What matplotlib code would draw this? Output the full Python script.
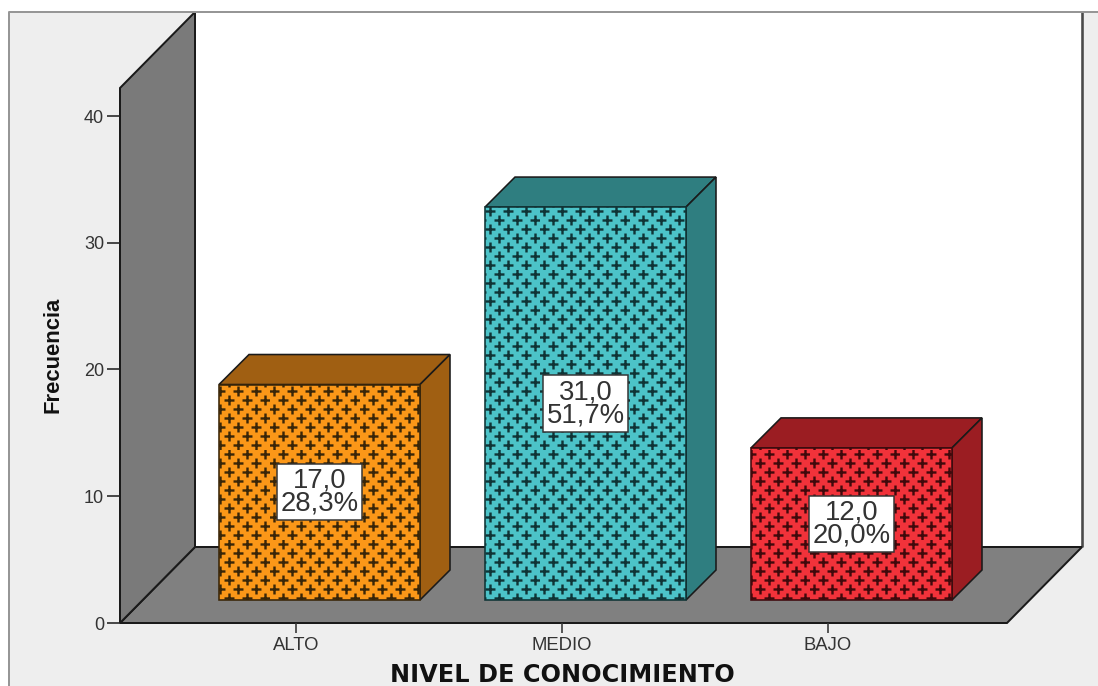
import numpy as np
import matplotlib
matplotlib.use("Agg")
import matplotlib.pyplot as plt
import matplotlib.hatch as mhatch
from matplotlib.patches import Polygon, Rectangle
from matplotlib.lines import Line2D
from matplotlib.path import Path

# ---- data ----
categories = ["ALTO", "MEDIO", "BAJO"]
counts = [17.0, 31.0, 12.0]
percents = [28.3, 51.7, 20.0]
y_ticks = [0, 10, 20, 30, 40]
x_title = "NIVEL DE CONOCIMIENTO"
y_title = "Frecuencia"
front_colors = ["#FB9718", "#4CC3C8", "#F1323A"]
side_colors = ["#A05F12", "#2F7E80", "#9B1D22"]
hatch_colors = ["#3A2608", "#0F3436", "#40090C"]

# ---- layout (pixels) ----
W, H, DPI = 1098, 686, 90
PX_PT = 72 / DPI
AX_L, AX_R, AX_B, AX_T = 120, 1007, 623, 88
CAT_PX = 266
VAL_PX = 12.675
TICK0_PX = 296


class PlusHatch(mhatch.HatchPatternBase):
    """Staggered plus signs: 5 per row, 10 rows per tile."""
    ROWS, COLS, ARM = 10, 5, 0.042

    def __init__(self, hatch, density):
        self.num_vertices = (self.ROWS * self.COLS * 4) if "+" in hatch else 0

    def set_vertices_and_codes(self, vertices, codes):
        i = 0
        for r in range(self.ROWS):
            y = (r + 0.5) / self.ROWS
            shift = 0.5 / self.COLS * (r % 2)
            for c in range(self.COLS):
                x = (c + 0.25) / self.COLS + shift
                vertices[i:i + 4] = [(x - self.ARM, y), (x + self.ARM, y),
                                     (x, y - self.ARM), (x, y + self.ARM)]
                codes[i:i + 4] = [Path.MOVETO, Path.LINETO, Path.MOVETO, Path.LINETO]
                i += 4


mhatch._hatch_types[:] = [PlusHatch]
plt.rcParams["hatch.linewidth"] = 2.4 * PX_PT
plt.rcParams["font.family"] = ["Liberation Sans", "DejaVu Sans"]

fig = plt.figure(figsize=(W / DPI, (H + 0.01) / DPI), dpi=DPI, facecolor="white")

# window frame behind the chart
fig.add_artist(Rectangle((9 / W, 0), 1 - 9 / W, 1 - 13 / H, transform=fig.transFigure,
                         facecolor="#EEEEEE", edgecolor="none", zorder=-5))
fig.add_artist(Line2D([9 / W, 9 / W, 1], [0, 1 - 12.5 / H, 1 - 12.5 / H], transform=fig.transFigure,
                      color="#969696", lw=2 * PX_PT, zorder=5))

ax = fig.add_axes([AX_L / W, 1 - AX_B / H, (AX_R - AX_L) / W, (AX_B - AX_T) / H])
ax.patch.set_visible(False)
xmin = (AX_L - TICK0_PX) / CAT_PX
xmax = (AX_R - TICK0_PX) / CAT_PX
ymax = (AX_B - AX_T) / VAL_PX
ax.set_xlim(xmin, xmax)
ax.set_ylim(0, ymax)
for s in ax.spines.values():
    s.set_visible(False)

# depth offsets, data units
WALL_DX, WALL_DY = 75 / CAT_PX, 76 / VAL_PX
BASE_DX, BASE_DY = 23.5 / CAT_PX, 23 / VAL_PX
BAR_DX, BAR_DY = 30 / CAT_PX, 30 / VAL_PX
BAR_W = 201 / CAT_PX
EDGE = dict(edgecolor="#1A1A1A", linewidth=1.6 * PX_PT, clip_on=False)


def poly(points, color, z, **kw):
    style = {**EDGE, **kw}
    ax.add_patch(Polygon(points, closed=True, facecolor=color, zorder=z, **style))


# back wall, side wall, floor
poly([(xmin + WALL_DX, WALL_DY), (xmax + WALL_DX, WALL_DY),
      (xmax + WALL_DX, ymax + WALL_DY), (xmin + WALL_DX, ymax + WALL_DY)], "white", 1,
     edgecolor="none")
ax.plot([xmax + WALL_DX] * 2, [WALL_DY, ymax + WALL_DY], color="#4A4A4A", lw=2.6 * PX_PT,
        solid_capstyle="butt", clip_on=False, zorder=1.05)
poly([(xmin, 0), (xmin, ymax), (xmin + WALL_DX, ymax + WALL_DY), (xmin + WALL_DX, WALL_DY)],
     "#7A7A7A", 1.2, linewidth=2 * PX_PT)
poly([(xmin, 0), (xmax, 0), (xmax + WALL_DX, WALL_DY), (xmin + WALL_DX, WALL_DY)],
     "#808080", 1.1, linewidth=2 * PX_PT)

# bars
xpos = np.arange(len(categories))
lefts = xpos + BASE_DX - BAR_W / 2
for i, (x0, v) in enumerate(zip(lefts, counts)):
    top = BASE_DY + v
    x1 = x0 + BAR_W
    poly([(x0, top), (x1, top), (x1 + BAR_DX, top + BAR_DY), (x0 + BAR_DX, top + BAR_DY)],
         side_colors[i], 3)
    poly([(x1, BASE_DY), (x1 + BAR_DX, BASE_DY + BAR_DY), (x1 + BAR_DX, top + BAR_DY), (x1, top)],
         side_colors[i], 3)
ax.bar(xpos + BASE_DX, counts, width=BAR_W, bottom=BASE_DY, color=front_colors,
       edgecolor=hatch_colors, linewidth=1.6 * PX_PT, hatch="+", zorder=4, clip_on=False)

# value labels
for x, v, p in zip(xpos, counts, percents):
    label = f"{v:.1f}\n{p:.1f}%".replace(".", ",")
    ax.text(x + BASE_DX, BASE_DY + v / 2, label, ha="center", va="center", ma="center",
            fontsize=27.5 * PX_PT, color="#333333", linespacing=0.85, zorder=6,
            bbox=dict(boxstyle="square,pad=0.13", facecolor="white", edgecolor="#333333",
                      linewidth=1.5 * PX_PT))

# axes
ax.set_yticks(y_ticks)
ax.set_xticks(xpos)
ax.set_xticklabels(categories)
ax.tick_params(axis="y", length=13 * PX_PT, width=1.6 * PX_PT, color="#222222", pad=3 * PX_PT,
               labelsize=18 * PX_PT, labelcolor="#333333")
ax.tick_params(axis="x", length=10 * PX_PT, width=1.6 * PX_PT, color="#333333", pad=4 * PX_PT,
               labelsize=18.5 * PX_PT, labelcolor="#333333")
fig.text(562 / W, 1 - 675 / H, x_title, ha="center", va="center", fontsize=24 * PX_PT,
         fontweight="bold", color="#111111", family="DejaVu Sans")
fig.text(53 / W, 1 - 355 / H, y_title, ha="center", va="center", rotation=90,
         fontsize=22 * PX_PT, fontweight="bold", color="#111111")

fig.savefig("out.png", dpi=DPI, facecolor="white")
